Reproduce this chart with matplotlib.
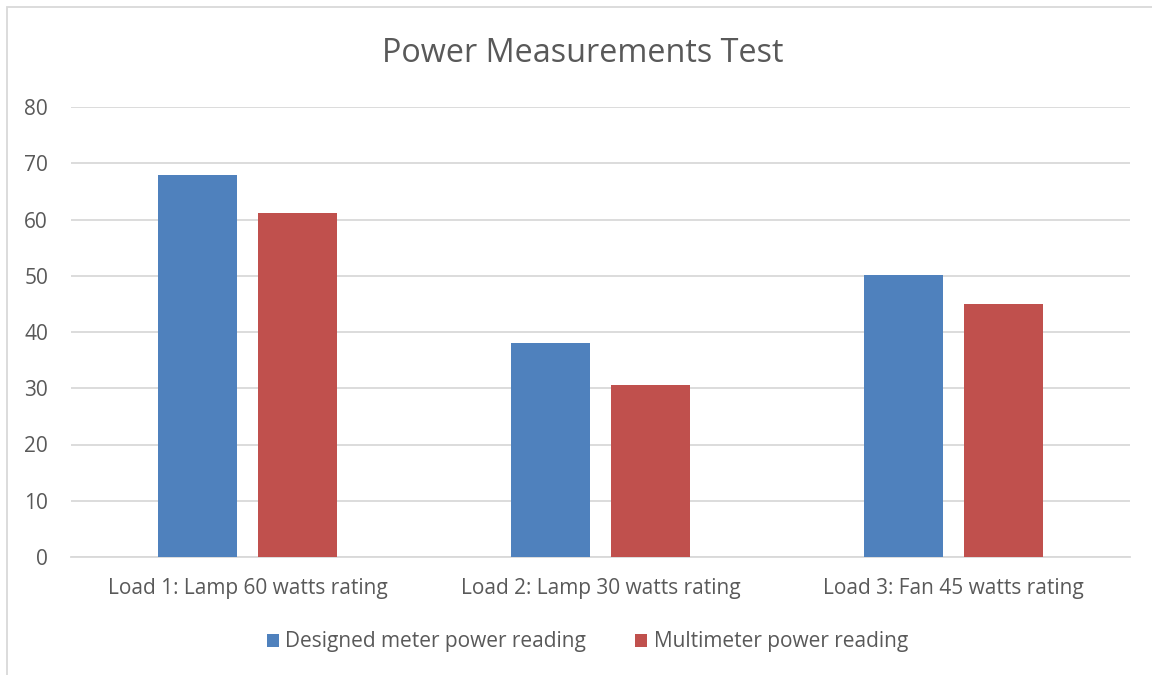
import numpy as np
import matplotlib
matplotlib.use("Agg")
import matplotlib.pyplot as plt
from matplotlib.patches import Rectangle

categories = ["Load 1: Lamp 60 watts rating", "Load 2: Lamp 30 watts rating", "Load 3: Fan 45 watts rating"]
designed = [68.0, 38.0, 50.1]
multimeter = [61.2, 30.6, 45.0]
series_names = ["Designed meter power reading", "Multimeter power reading"]
yticks = [0, 10, 20, 30, 40, 50, 60, 70, 80]

BLUE = "#4f81bd"; RED = "#c0504d"; GRID = "#d9d9d9"; TXT = "#595959"
plt.rcParams["font.family"] = ["Open Sans", "DejaVu Sans"]

fig = plt.figure(figsize=(11.52, 6.75), dpi=100)
ax = fig.add_axes([71/1152, 1-557/675, (1130-71)/1152, (557-107)/675])

x = np.arange(len(categories))
w = 0.224; off = 0.142
ax.bar(x-off, designed, w, color=BLUE, label=series_names[0], zorder=3)
ax.bar(x+off, multimeter, w, color=RED, label=series_names[1], zorder=3)

ax.set_xlim(-0.5, 2.5); ax.set_ylim(0, 80)
ax.set_yticks(yticks)
ax.set_xticks(x, categories)
ax.grid(axis="y", color=GRID, lw=1.3, zorder=0)
for s in ["top", "right", "left"]:
    ax.spines[s].set_visible(False)
ax.spines["bottom"].set_color(GRID); ax.spines["bottom"].set_linewidth(1.3)
ax.tick_params(axis="both", length=0, colors=TXT, labelsize=15)
ax.tick_params(axis="y", pad=16.5)
ax.tick_params(axis="x", pad=15)

fig.text(0.506, 1-54/675, "Power Measurements Test", ha="center", va="center",
         fontsize=23.3, color=TXT)

fig.legend(loc="center", bbox_to_anchor=(0.51, 1-642/675), ncol=2, frameon=False,
           handlelength=0.58, handleheight=0.58, handletextpad=0.33, columnspacing=2.35,
           fontsize=15, labelcolor=TXT)

fig.patches.append(Rectangle((7/1152, -0.1), 1.2, 1-7/675+0.1, transform=fig.transFigure,
                             fill=False, edgecolor=GRID, lw=1.3))

fig.savefig("out.png", dpi=100)
